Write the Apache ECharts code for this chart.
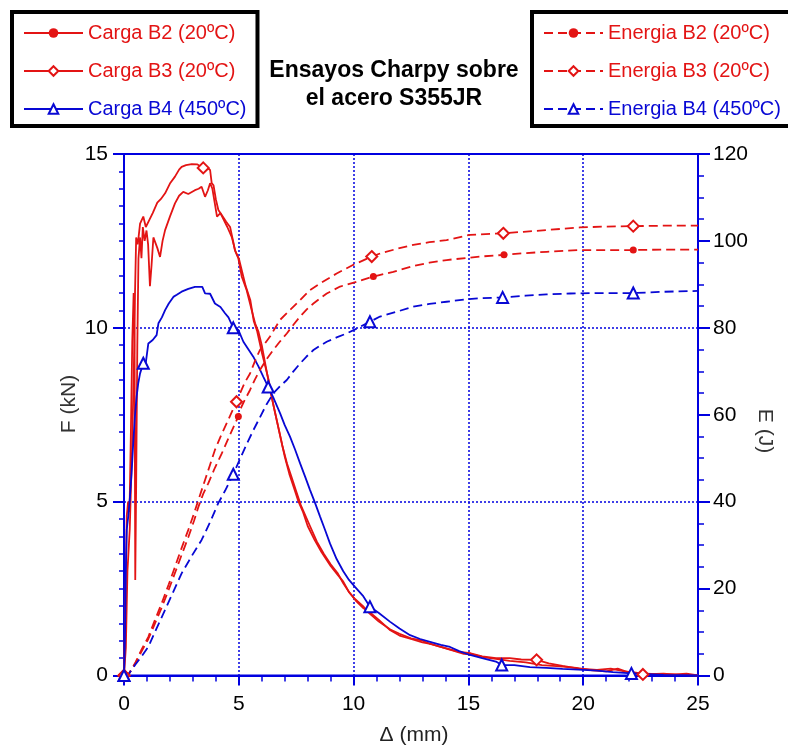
<!DOCTYPE html>
<html>
<head>
<meta charset="utf-8">
<script src="https://cdn.jsdelivr.net/npm/echarts@6/dist/echarts.min.js"></script>
<style>
html,body{margin:0;padding:0;background:#fff;}
#c{width:788px;height:747px;}
</style>
</head>
<body>
<div id="c"></div>
<script>
// ---------- DATA ----------
const xTicks = [0, 5, 10, 15, 20, 25];
const fTicks = [0, 5, 10, 15];
const eTicks = [0, 20, 40, 60, 80, 100, 120];

const seriesNames = ['Carga B2 (20ºC)', 'Carga B3 (20ºC)', 'Carga B4 (450ºC)',
                     'Energia B2 (20ºC)', 'Energia B3 (20ºC)', 'Energia B4 (450ºC)'];

// Force (kN) vs displacement (mm)
const cargaB2 = [[0,0],[0.06,2.0],[0.12,4.6],[0.18,5.0],[0.24,4.7],[0.3,7.0],[0.36,9.6],[0.42,11.0],[0.46,9.5],[0.49,2.75],[0.53,5.5],[0.58,9.5],[0.63,12.0],[0.7,12.6],[0.76,12.0],[0.82,12.9],[0.9,12.5],[0.98,12.8],[1.05,12.4],[1.13,11.2],[1.2,11.8],[1.28,12.6],[1.35,12.62],[1.45,12.3],[1.57,12.04],[1.68,12.5],[1.79,12.81],[2.0,13.2],[2.22,13.58],[2.4,13.8],[2.58,13.91],[2.8,13.85],[3.09,13.96],[3.25,14.0],[3.38,14.06],[3.53,13.77],[3.65,13.95],[3.75,14.16],[3.85,14.0],[3.95,13.6],[4.05,13.2],[4.2,13.3],[4.35,13.1],[4.5,12.9],[4.7,12.6],[4.85,12.2],[5.0,12.0],[5.15,11.6],[5.3,11.2],[5.5,10.8],[5.65,10.2],[5.8,9.9],[6.0,9.3],[6.15,8.9],[6.3,8.5],[6.5,7.8],[6.7,7.2],[6.9,6.6],[7.1,6.1],[7.3,5.7],[7.5,5.3],[7.7,4.9],[7.9,4.6],[8.1,4.3],[8.4,3.85],[8.7,3.5],[9.0,3.2],[9.3,2.95],[9.55,2.65],[9.8,2.4],[10.1,2.15],[10.4,1.95],[10.7,1.82],[11.1,1.6],[11.6,1.3],[12.0,1.15],[12.5,1.05],[13.0,0.95],[13.4,0.9],[13.9,0.8],[14.3,0.72],[14.8,0.62],[15.2,0.6],[15.7,0.52],[16.2,0.48],[16.8,0.42],[17.5,0.38],[18.2,0.3],[19.0,0.26],[19.7,0.22],[20.4,0.15],[21.0,0.12],[21.5,0.2],[22.0,0.08],[22.5,0.06],[23.2,0.04],[24.0,0.03],[24.5,0.05],[25,0]];
const cargaB3 = [[0,0],[0.08,0.8],[0.15,3.0],[0.25,4.2],[0.35,6.5],[0.45,9.5],[0.48,11.0],[0.53,12.6],[0.6,12.4],[0.7,13.0],[0.84,13.2],[0.95,12.9],[1.1,13.1],[1.25,13.3],[1.45,13.6],[1.6,13.7],[1.79,13.87],[2.0,14.15],[2.22,14.35],[2.4,14.55],[2.51,14.63],[2.7,14.68],[2.95,14.71],[3.2,14.7],[3.45,14.6],[3.6,14.62],[3.75,14.54],[3.82,14.16],[3.9,14.1],[4.0,13.7],[4.11,13.39],[4.3,13.2],[4.45,13.05],[4.62,12.9],[4.75,12.5],[4.83,12.24],[4.98,12.0],[5.13,11.47],[5.34,11.09],[5.45,10.8],[5.56,10.51],[5.71,10.13],[5.85,9.9],[6.0,9.5],[6.2,8.8],[6.4,8.1],[6.6,7.5],[6.8,6.9],[7.0,6.3],[7.2,5.8],[7.4,5.4],[7.6,5.0],[7.8,4.7],[8.0,4.3],[8.3,3.9],[8.6,3.55],[9.0,3.15],[9.3,2.9],[9.55,2.7],[9.8,2.4],[10.06,2.2],[10.4,2.0],[10.7,1.78],[11.1,1.55],[11.6,1.32],[12.0,1.2],[12.5,1.07],[13.0,1.0],[13.3,0.92],[13.8,0.82],[14.2,0.75],[14.6,0.68],[15.1,0.64],[15.6,0.55],[16.2,0.5],[16.8,0.5],[17.3,0.46],[17.97,0.45],[18.5,0.35],[19.1,0.28],[19.8,0.2],[20.6,0.16],[21.2,0.2],[21.8,0.12],[22.3,0.08],[22.6,0.03],[23.5,0.05],[24.2,0.02],[25,0]];
const cargaB4 = [[0,0],[0.04,1.0],[0.08,3.0],[0.12,4.2],[0.19,4.6],[0.26,5.14],[0.33,5.82],[0.41,6.77],[0.48,7.5],[0.55,8.02],[0.62,8.4],[0.7,8.69],[0.84,8.98],[0.95,9.0],[1.06,9.55],[1.25,9.65],[1.42,9.79],[1.5,10.13],[1.65,10.3],[1.79,10.51],[1.95,10.7],[2.15,10.89],[2.3,10.95],[2.51,11.04],[2.8,11.12],[3.09,11.18],[3.41,11.18],[3.53,10.99],[3.75,10.98],[3.96,10.7],[4.2,10.6],[4.4,10.42],[4.55,10.3],[4.76,10.0],[4.98,9.94],[5.2,9.6],[5.4,9.4],[5.63,9.17],[5.85,8.9],[6.07,8.59],[6.28,8.3],[6.5,8.0],[6.8,7.54],[7.0,7.2],[7.23,6.87],[7.45,6.5],[7.67,6.1],[7.9,5.7],[8.1,5.34],[8.3,5.0],[8.54,4.57],[8.75,4.2],[8.97,3.8],[9.26,3.35],[9.55,3.0],[9.8,2.75],[10.06,2.55],[10.4,2.3],[10.71,1.98],[11.1,1.8],[11.58,1.55],[12.0,1.35],[12.46,1.16],[12.9,1.05],[13.33,0.97],[13.8,0.88],[14.2,0.82],[14.6,0.7],[15.07,0.59],[15.6,0.5],[16.2,0.4],[16.45,0.3],[17.0,0.3],[17.68,0.24],[18.4,0.22],[19.1,0.19],[19.8,0.17],[20.6,0.14],[21.3,0.1],[22.1,0.06],[22.8,0.04],[23.5,0.02],[24.2,0.01],[25,0]];

// Energy (J) vs displacement (mm)
const energiaB2 = [[0,0],[0.2,0.3],[0.48,2.6],[0.75,5.4],[1.06,8.4],[1.35,12.0],[1.64,15.6],[1.95,19.8],[2.22,23.6],[2.5,27.6],[2.8,31.8],[3.05,35.6],[3.24,38.8],[3.45,41.8],[3.67,44.2],[3.96,47.8],[4.26,51.1],[4.6,55.2],[4.98,59.6],[5.05,61.1],[5.25,63.3],[5.49,65.7],[5.7,68.1],[5.92,70.3],[6.2,72.7],[6.5,74.9],[6.8,76.9],[7.09,78.7],[7.38,80.7],[7.67,82.6],[7.95,84.2],[8.25,85.6],[8.54,86.8],[8.83,87.9],[9.41,89.5],[10.13,90.6],[10.86,91.8],[11.73,92.9],[12.6,94.2],[13.3,95.0],[14.05,95.6],[15.5,96.4],[16.55,96.8],[17.5,97.2],[18.41,97.5],[19.86,97.9],[21.0,97.9],[22.18,97.9],[23.5,98.0],[25,98.0]];
const energiaB3 = [[0,0],[0.2,0.3],[0.48,2.8],[0.75,5.8],[1.06,8.9],[1.35,12.8],[1.64,16.6],[1.95,21.0],[2.22,25.0],[2.5,29.2],[2.8,33.5],[3.05,37.3],[3.24,40.4],[3.53,45.0],[3.75,48.5],[3.96,51.9],[4.25,55.5],[4.54,58.8],[4.9,63.0],[5.05,64.9],[5.25,67.3],[5.49,69.5],[5.7,72.3],[5.92,74.9],[6.15,76.5],[6.36,78.0],[6.79,81.8],[7.23,84.1],[7.67,86.4],[8.1,88.7],[8.54,90.2],[9.26,92.5],[9.99,94.5],[10.79,96.4],[11.15,97.1],[11.9,98.2],[12.6,99.1],[13.3,99.7],[14.05,100.2],[15.07,101.4],[16.52,101.75],[17.4,102.1],[18.41,102.5],[19.86,103.1],[21.0,103.3],[22.18,103.4],[23.5,103.5],[25,103.5]];
const energiaB4 = [[0,0],[0.2,0.3],[0.48,2.4],[0.75,4.3],[1.06,6.6],[1.4,10.6],[1.79,15.1],[2.15,19.3],[2.51,23.5],[2.95,27.5],[3.38,31.2],[3.75,35.3],[4.1,39.6],[4.4,42.5],[4.76,46.3],[5.05,49.8],[5.34,53.2],[5.62,56.3],[5.92,59.4],[6.2,62.3],[6.5,64.9],[6.8,66.6],[7.09,68.0],[7.38,70.0],[7.67,71.8],[7.95,73.4],[8.25,74.9],[8.54,75.9],[8.83,76.8],[9.26,77.8],[9.7,78.7],[10.2,80.0],[10.71,81.4],[11.15,82.6],[11.88,83.7],[12.6,84.9],[13.3,85.5],[14.05,86.0],[14.8,86.5],[15.5,86.8],[16.49,87.0],[17.5,87.4],[18.4,87.7],[19.43,87.9],[20.5,88.0],[22.18,88.0],[23.5,88.3],[25,88.5]];

// x positions (mm) where a series shows its marker
const marksCargaB2 = [0];
const marksCargaB3 = [0, 3.45, 17.97, 22.6];
const marksCargaB4 = [0, 0.84, 4.76, 6.28, 10.71, 16.45, 22.1];
const marksEnergiaB2 = [0, 4.98, 10.86, 16.55, 22.18];
const marksEnergiaB3 = [0, 4.9, 10.79, 16.52, 22.18];
const marksEnergiaB4 = [0, 4.76, 10.71, 16.49, 22.18];

// ---------- STYLE ----------
const RED = '#e31414';
const BLUE = '#0808d4';
const AXIS = '#0000e0';
const FONT = '"Liberation Sans", Arial, sans-serif';

function mkSeries(name, pts, marks, yAxisIndex, color, symbol, size, dashed) {
  return {
    name: name,
    type: 'line',
    yAxisIndex: yAxisIndex,
    symbol: symbol,
    symbolSize: size,
    showSymbol: true,
    data: pts.map(p => marks.indexOf(p[0]) >= 0 ? {value: p} : {value: p, symbol: 'none'}),
    lineStyle: {color: color, width: dashed ? 1.8 : 1.8, type: dashed ? [9, 5] : 'solid'},
    itemStyle: {color: color, borderWidth: 1.6},
    emphasis: {disabled: true},
    animation: false
  };
}

const chart = echarts.init(document.getElementById('c'), null, {renderer: 'canvas'});

const legendBase = {
  orient: 'vertical',
  top: 12,
  itemWidth: 59,
  itemHeight: 12,
  itemGap: 18,
  borderColor: '#000',
  borderWidth: 4,
  backgroundColor: '#fff',
  selectedMode: false,
  textStyle: {fontSize: 20, fontFamily: FONT, lineHeight: 20}
};

chart.setOption({
  backgroundColor: '#fff',
  animation: false,
  title: {
    text: 'Ensayos Charpy sobre\nel acero S355JR',
    left: 'center',
    top: 57,
    padding: 0,
    textStyle: {fontSize: 23, fontWeight: 'bold', fontFamily: FONT, color: '#000', lineHeight: 28}
  },
  legend: [
    Object.assign({}, legendBase, {
      left: 12,
      padding: [11, 11, 7, 11],
      data: [
        {name: seriesNames[0], textStyle: {color: RED}},
        {name: seriesNames[1], textStyle: {color: RED}},
        {name: seriesNames[2], textStyle: {color: BLUE}}
      ]
    }),
    Object.assign({}, legendBase, {
      left: 532,
      padding: [11, 14, 7, 11],
      data: [
        {name: seriesNames[3], textStyle: {color: RED}},
        {name: seriesNames[4], textStyle: {color: RED}},
        {name: seriesNames[5], textStyle: {color: BLUE}}
      ]
    })
  ],
  grid: {left: 124, right: 90, top: 154, bottom: 71.5, show: true, borderColor: AXIS, borderWidth: 2, backgroundColor: 'transparent'},
  xAxis: {
    type: 'value', min: xTicks[0], max: xTicks[xTicks.length - 1], interval: xTicks[1] - xTicks[0],
    axisLine: {show: true, onZero: false, lineStyle: {color: AXIS, width: 2}},
    axisTick: {show: true, length: 10, lineStyle: {color: AXIS, width: 2}},
    minorTick: {show: true, splitNumber: 5, length: 6, lineStyle: {color: AXIS, width: 1.5}},
    axisLabel: {color: '#000', fontSize: 21, fontFamily: FONT, margin: 18},
    splitLine: {show: true, lineStyle: {color: AXIS, width: 1.5, type: [2, 2]}}
  },
  yAxis: [
    {
      type: 'value', position: 'left', min: fTicks[0], max: fTicks[fTicks.length - 1], interval: fTicks[1] - fTicks[0],
      axisLine: {show: true, onZero: false, lineStyle: {color: AXIS, width: 2}},
      axisTick: {show: true, length: 11, lineStyle: {color: AXIS, width: 2}},
      minorTick: {show: true, splitNumber: 10, length: 5, lineStyle: {color: AXIS, width: 1.5}},
      axisLabel: {color: '#000', fontSize: 21, fontFamily: FONT, margin: 16},
      splitLine: {show: true, lineStyle: {color: AXIS, width: 1.5, type: [2, 2]}}
    },
    {
      type: 'value', position: 'right', min: eTicks[0], max: eTicks[eTicks.length - 1], interval: eTicks[1] - eTicks[0],
      axisLine: {show: true, onZero: false, lineStyle: {color: AXIS, width: 2}},
      axisTick: {show: true, length: 12, lineStyle: {color: AXIS, width: 2}},
      minorTick: {show: true, splitNumber: 4, length: 6, lineStyle: {color: AXIS, width: 1.5}},
      axisLabel: {color: '#000', fontSize: 21, fontFamily: FONT, margin: 15},
      splitLine: {show: false}
    }
  ],
  graphic: [
    {type: 'text', x: 414, y: 735, style: {text: 'Δ (mm)', font: '21px ' + FONT, fill: '#222', align: 'center', verticalAlign: 'middle'}},
    {type: 'text', x: 69, y: 404, rotation: Math.PI / 2, style: {text: 'F (kN)', font: '21px ' + FONT, fill: '#333', align: 'center', verticalAlign: 'middle'}},
    {type: 'text', x: 765, y: 431, rotation: -Math.PI / 2, style: {text: 'E (J)', font: '21px ' + FONT, fill: '#333', align: 'center', verticalAlign: 'middle'}}
  ],
  series: [
    mkSeries(seriesNames[0], cargaB2, marksCargaB2, 0, RED, 'circle', 7, false),
    mkSeries(seriesNames[1], cargaB3, marksCargaB3, 0, RED, 'emptyDiamond', 11, false),
    mkSeries(seriesNames[2], cargaB4, marksCargaB4, 0, BLUE, 'emptyTriangle', 11, false),
    mkSeries(seriesNames[3], energiaB2, marksEnergiaB2, 1, RED, 'circle', 7, true),
    mkSeries(seriesNames[4], energiaB3, marksEnergiaB3, 1, RED, 'emptyDiamond', 11, true),
    mkSeries(seriesNames[5], energiaB4, marksEnergiaB4, 1, BLUE, 'emptyTriangle', 11, true)
  ]
});
</script>
</body>
</html>
